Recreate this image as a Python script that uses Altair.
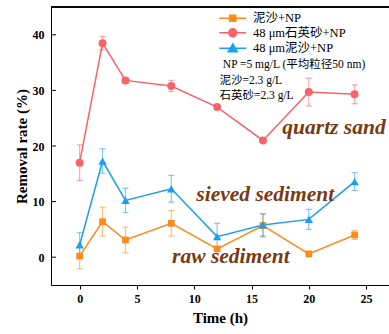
import altair as alt
import pandas as pd
import math

# ---- data ----
times = [0, 2, 4, 8, 12, 16, 20, 24]
series_names = ["泥沙+NP", "48 μm石英砂+NP", "48 μm泥沙+NP"]
raw_vals = [0.2, 6.4, 3.1, 6.1, 1.5, 5.7, 0.6, 4.0]
quartz_vals = [17.0, 38.5, 31.8, 30.8, 27.0, 21.0, 29.7, 29.3]
sieved_vals = [2.2, 17.3, 10.2, 12.3, 3.7, 5.8, 6.8, 13.6]
raw_err = [2.3, 2.6, 2.3, 2.3, 0.4, 2.1, 0.3, 0.8]
quartz_err = [3.2, 1.2, 0.5, 1.0, 0.4, 0.3, 2.5, 1.7]
sieved_err = [2.2, 2.2, 2.2, 2.4, 2.4, 2.0, 1.8, 1.6]

colors = ["#FF8A17", "#F8626A", "#1C9EF2"]
shapes = ["square", "circle", "triangle-up"]
marker_sizes = [45, 64, 70]


# legend symbols: a line segment plus the marker
def poly(pts):
    return "M" + "L".join(f"{x:.3f},{y:.3f}" for x, y in pts) + "Z"


seg = "M-2.7,0L2.7,0"
sq = poly([(-0.62, -0.62), (0.62, -0.62), (0.62, 0.62), (-0.62, 0.62)])
circ = poly([(0.8 * math.cos(2 * math.pi * k / 16), 0.8 * math.sin(2 * math.pi * k / 16))
             for k in range(16)])
tri = poly([(0, -0.85), (0.9, 0.7), (-0.9, 0.7)])
legend_paths = [seg + sq, seg + circ, seg + tri]

annot_text = ["quartz sand", "sieved sediment", "raw sediment"]
annot_x = [22.2, 16.2, 13.2]
annot_y = [23.3, 11.1, 0.05]

note_text = ["NP =5 mg/L (平均粒径50  nm)", "泥沙=2.3 g/L", "石英砂=2.3  g/L"]
note_x = [12.5, 12.2, 12.2]
note_y = [34.5, 31.7, 29.0]

y_ticks = [0, 10, 20, 30, 40]
x_ticks = [0, 2.5, 5, 7.5, 10, 12.5, 15, 17.5, 20, 22.5, 25]

# ---- tables ----
rows = []
for name, vals, errs in zip(series_names, [raw_vals, quartz_vals, sieved_vals],
                            [raw_err, quartz_err, sieved_err]):
    for t, v, e in zip(times, vals, errs):
        rows.append({"series": name, "t": t, "v": v, "lo": v - e, "hi": v + e})
df = pd.DataFrame(rows)
annot_df = pd.DataFrame({"text": annot_text, "x": annot_x, "y": annot_y})
note_df = pd.DataFrame({"text": note_text, "x": note_x, "y": note_y})
ytick_df = pd.DataFrame({"v": y_ticks})
legend_df = pd.DataFrame({"series": series_names})

FONT = "Liberation Serif, Noto Sans CJK SC"
W, H = 338, 278

xs = alt.Scale(domain=[-2.5, 27.0], nice=False, zero=False)
ys = alt.Scale(domain=[-5, 45], nice=False, zero=False)

x_enc = alt.X("t:Q", scale=xs, axis=alt.Axis(
    title="Time (h)", values=x_ticks,
    labelExpr="datum.value % 5 == 0 ? datum.label : ''",
    grid=False, tickSize=4, tickColor="black", domainColor="black",
    labelFont=FONT, labelFontWeight="bold", labelFontSize=12, labelColor="black",
    labelPadding=4, titleFont=FONT, titleFontWeight="bold", titleFontSize=15,
    titleColor="black", titlePadding=6))
y_enc = alt.Y("v:Q", scale=ys, axis=alt.Axis(
    title="Removal rate (%)", values=y_ticks, ticks=False, grid=False,
    domainColor="black", labelFont=FONT, labelFontWeight="bold", labelFontSize=12,
    labelColor="black", labelPadding=7, titleFont=FONT, titleFontWeight="bold",
    titleFontSize=15, titleColor="black", titlePadding=3))

base = alt.Chart(df)

layers = []
# error bars
for name, col in zip(series_names, colors):
    layers.append(
        base.transform_filter(alt.datum.series == name)
        .mark_errorbar(ticks=alt.MarkConfig(size=6), thickness=1.2, opacity=0.55, color=col)
        .encode(x=alt.X("t:Q", scale=xs),
                y=alt.Y("lo:Q", scale=ys, title="Removal rate (%)"),
                y2="hi:Q")
    )
# lines
for i, (name, col) in enumerate(zip(series_names, colors)):
    layers.append(
        base.transform_filter(alt.datum.series == name)
        .mark_line(strokeWidth=1.5, color=col)
        .encode(x=x_enc if i == 0 else alt.X("t:Q", scale=xs),
                y=y_enc if i == 0 else alt.Y("v:Q", scale=ys))
    )
# markers
for name, shp, sz, col in zip(series_names, shapes, marker_sizes, colors):
    layers.append(
        base.transform_filter(alt.datum.series == name)
        .mark_point(shape=shp, size=sz, filled=True, opacity=1, color=col)
        .encode(x=alt.X("t:Q", scale=xs), y=alt.Y("v:Q", scale=ys))
    )


def leg():
    return alt.Legend(
        title=None, orient="none", legendX=175.5, legendY=5,
        symbolSize=100, symbolStrokeWidth=1.5, labelOffset=14,
        labelFont=FONT, labelFontSize=12.5, labelColor="black",
        rowPadding=0.5, padding=0, labelLimit=300)


# carrier layer: only its legend is seen (its marks are clipped away)
legend_layer = alt.Chart(legend_df).mark_point(
    opacity=1, strokeWidth=1.5, clip=True).encode(
    x=alt.value(-500),
    y=alt.value(-500),
    fill=alt.Fill("series:N", scale=alt.Scale(domain=series_names, range=colors),
                  legend=leg()),
    stroke=alt.Stroke("series:N", scale=alt.Scale(domain=series_names, range=colors),
                      legend=leg()),
    shape=alt.Shape("series:N", scale=alt.Scale(domain=series_names, range=legend_paths),
                    legend=leg()),
)

yticks = alt.Chart(ytick_df).mark_rule(color="black").encode(
    x=alt.value(0), x2=alt.value(5), y=alt.Y("v:Q", scale=ys))

top_line = alt.Chart(ytick_df).mark_rule(color="black").encode(
    x=alt.value(0), x2=alt.value(W), y=alt.value(0))

annots = alt.Chart(annot_df).mark_text(
    font=FONT, fontStyle="italic", fontWeight="bold", fontSize=21.5,
    color="#7A3A12", align="center", baseline="middle").encode(
    x=alt.X("x:Q", scale=xs), y=alt.Y("y:Q", scale=ys), text="text:N")

notes = alt.Chart(note_df).mark_text(
    font=FONT, fontSize=11.5, color="black", align="left", baseline="middle").encode(
    x=alt.X("x:Q", scale=xs), y=alt.Y("y:Q", scale=ys), text="text:N")

chart = alt.layer(
    *layers, yticks, top_line, annots, notes, legend_layer
).properties(
    width=W, height=H,
    autosize=alt.AutoSizeParams(type="none"),
    padding={"left": 51, "top": 7, "right": 0, "bottom": 49},
    background="white",
).configure_view(stroke=None)

chart.save("out.html", embed_options={"renderer": "svg", "actions": False})
